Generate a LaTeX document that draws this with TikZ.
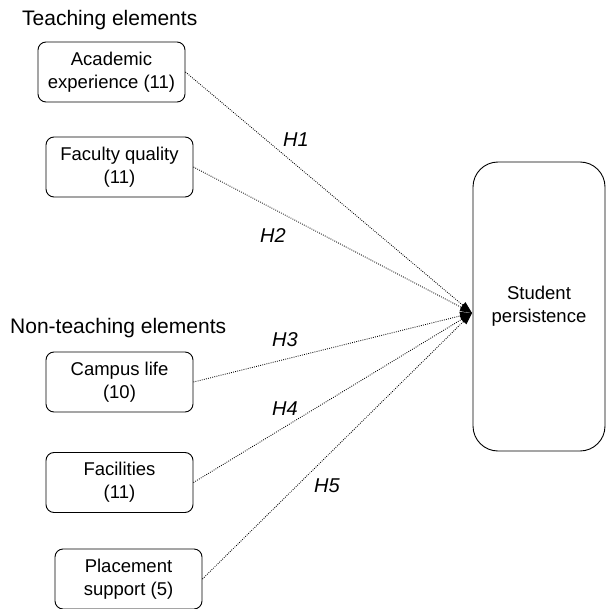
\documentclass[tikz,border=0pt]{standalone}
\usepackage{fontspec}
\setmainfont{Liberation Sans}
\usetikzlibrary{arrows.meta,positioning}
\tikzstyle{factor} = [draw,line width=0.9pt,rectangle,rounded corners=8pt,align=center,inner sep=0,minimum width=147pt,minimum height=60pt,font=\fontsize{18.5}{22.7}\selectfont]
\tikzstyle{outcome} = [factor,rounded corners=25pt,minimum width=132pt,minimum height=289pt]
\tikzstyle{group} = [anchor=west,inner sep=0,font=\fontsize{21}{25}\selectfont]
\tikzstyle{hypo} = [line width=0.85pt,dash pattern=on 0.85pt off 1.3pt,-{Triangle[length=12pt,width=8pt]}]
\tikzstyle{hlabel} = [inner sep=0,font=\fontsize{20}{24}\selectfont\itshape]

\begin{document}
\begin{tikzpicture}[x=1pt,y=-1pt]
      \useasboundingbox (0,0) rectangle (606,609);
      \node[group] (teach) at (22,20) {Teaching elements};
      \node[factor] (acad) at (111.5,72) {Academic\\experience (11)};
      \node[factor] (fac) at (119.5,167) {Faculty quality\\(11)};
      \node[group] (nonteach) at (10,328) {Non-teaching elements};
      \node[factor] (camp) at (119.5,382) {Campus life\\(10)};
      \node[factor] (facil) at (119.5,482.5) {Facilities\\(11)};
      \node[factor] (place) at (128.5,579) {Placement\\support (5)};
      \node[outcome] (stud) at (539,306.5) {Student\\persistence};
      \coordinate (tip) at (472,313);
      \draw[hypo] (acad.east) -- (tip);
      \draw[hypo] (fac.east) -- (tip);
      \draw[hypo] (camp.east) -- (tip);
      \draw[hypo] (facil.east) -- (tip);
      \draw[hypo] (place.east) -- (tip);
      \node[hlabel] (h1) at (296,140) {H1};
      \node[hlabel] (h2) at (273,236) {H2};
      \node[hlabel] (h3) at (285,340) {H3};
      \node[hlabel] (h4) at (285,409) {H4};
      \node[hlabel] (h5) at (327,486) {H5};
    \end{tikzpicture}
\end{document}
